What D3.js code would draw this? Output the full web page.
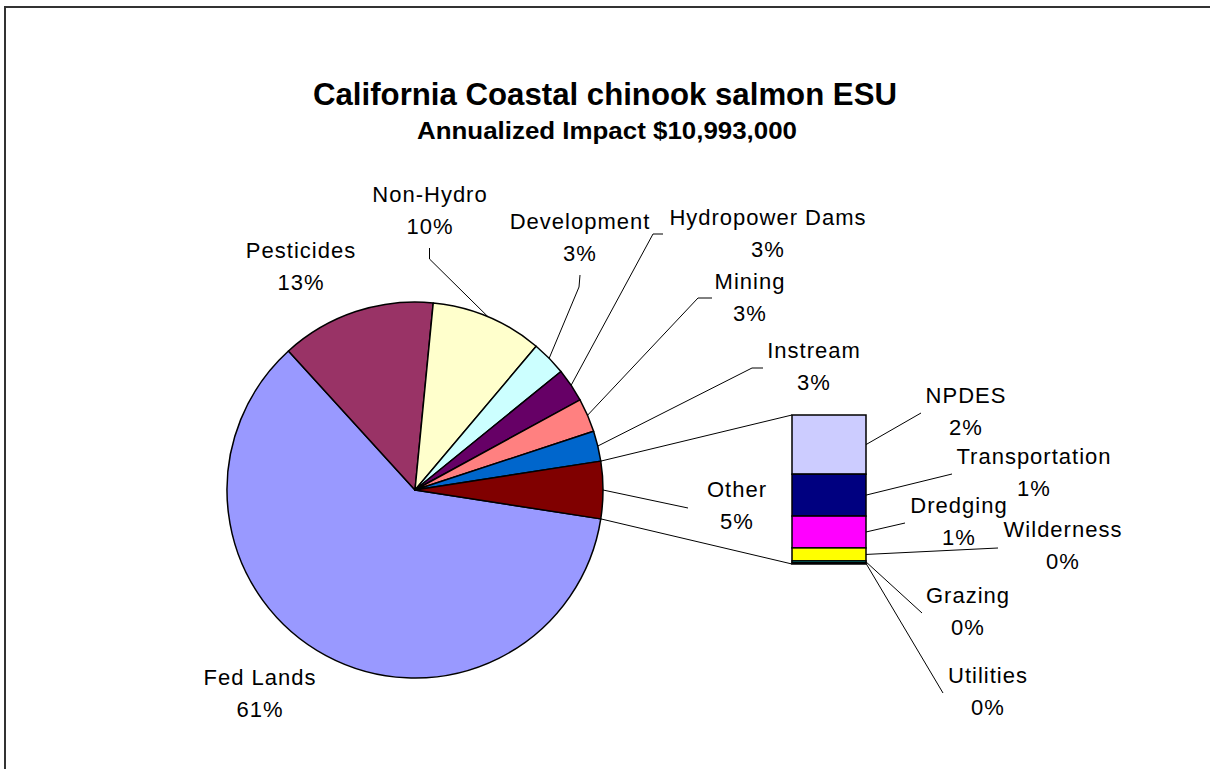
<!DOCTYPE html>
<html>
<head>
<meta charset="utf-8">
<script src="https://cdn.jsdelivr.net/npm/d3@7"></script>
<style>
  html, body { margin: 0; padding: 0; background: #fff; }
  svg { display: block; font-family: "Liberation Sans", Arial, sans-serif; }
  .lbl { font-size: 22px; letter-spacing: 1px; fill: #000; }
  .leader { fill: none; stroke: #000; stroke-width: 1; }
</style>
</head>
<body>
<div id="chart"></div>
<script>
// pie slices, clockwise starting just below "Other"
const pieCategories = ["Fed Lands", "Pesticides", "Non-Hydro", "Development",
  "Hydropower Dams", "Mining", "Instream", "Other"];
const pieValues = [60.8, 13.3, 9.6, 3.0, 2.9, 2.9, 2.6];
const pieColors = ["#9999FF", "#993366", "#FFFFCC", "#CCFFFF",
  "#660066", "#FF8080", "#0066CC", "#800000"];

// breakdown of "Other", top to bottom in the bar
const barCategories = ["NPDES", "Transportation", "Dredging", "Wilderness", "Grazing", "Utilities"];
const barValues = [1.95, 1.38, 1.05, 0.43, 0.06, 0.04];
const barColors = ["#CCCCFF", "#000080", "#FF00FF", "#FFFF00", "#00FFFF", "#800080"];

const width = 1210, height = 769;
const cx = 415, cy = 490, r = 188;
const bar = { x: 792, w: 74, top: 415, bottom: 564 };

// label layout: text centre / first baseline, plus leader line bends
const pieLabelPos = {
  "Fed Lands":       { x: 260, y: 685 },
  "Pesticides":      { x: 301, y: 258 },
  "Non-Hydro":       { x: 430, y: 202, leader: [[429.5, 259], [429.5, 248]] },
  "Development":     { x: 580, y: 229, leader: [[579, 287], [580, 275]] },
  "Hydropower Dams": { x: 768, y: 225, leader: [[653, 234], [663, 234]] },
  "Mining":          { x: 750, y: 289, leader: [[698, 298], [712, 298]] },
  "Instream":        { x: 814, y: 358, leader: [[752, 368], [763, 368]] },
  "Other":           { x: 737, y: 497, leader: [[688, 508]] }
};
const barLabelPos = {
  "NPDES":          { x: 966, y: 403, end: [921, 413] },
  "Transportation": { x: 1034, y: 464, end: [952, 474] },
  "Dredging":       { x: 959, y: 513, end: [905, 523] },
  "Wilderness":     { x: 1063, y: 537, end: [998, 548] },
  "Grazing":        { x: 968, y: 603, end: [922, 613] },
  "Utilities":      { x: 988, y: 683, end: [943, 693] }
};

const otherTotal = d3.sum(barValues);
const allPieValues = pieValues.concat([otherTotal]);
const total = d3.sum(allPieValues);
const pct = v => Math.round(v / total * 100) + "%";

const svg = d3.select("#chart").append("svg")
  .attr("width", width)
  .attr("height", height);

// chart border
svg.append("rect")
  .attr("x", 5).attr("y", 7)
  .attr("width", 1400).attr("height", 1000)
  .attr("fill", "none")
  .attr("stroke", "#333")
  .attr("stroke-width", 2);

// titles
svg.append("text")
  .attr("x", 605).attr("y", 105)
  .attr("text-anchor", "middle")
  .attr("textLength", 584).attr("lengthAdjust", "spacingAndGlyphs")
  .style("font-size", "31px").style("font-weight", "bold")
  .text("California Coastal chinook salmon ESU");
svg.append("text")
  .attr("x", 607).attr("y", 139)
  .attr("text-anchor", "middle")
  .attr("textLength", 380).attr("lengthAdjust", "spacingAndGlyphs")
  .style("font-size", "24px").style("font-weight", "bold")
  .text("Annualized Impact $10,993,000");

// pie
const otherAngle = otherTotal / total * 2 * Math.PI;
const start = Math.PI / 2 + otherAngle / 2;
const pie = d3.pie().sort(null).startAngle(start).endAngle(start + 2 * Math.PI);
const arcs = pie(allPieValues);
const arc = d3.arc().innerRadius(0).outerRadius(r);
const onArc = (a, rad) => [cx + rad * Math.sin(a), cy - rad * Math.cos(a)];

const g = svg.append("g").attr("transform", "translate(" + cx + "," + cy + ")");
g.selectAll("path.slice")
  .data(arcs)
  .enter().append("path")
  .attr("class", "slice")
  .attr("d", arc)
  .attr("fill", (d, i) => pieColors[i])
  .attr("stroke", "#000")
  .attr("stroke-width", 1.5)
  .attr("stroke-linejoin", "round");

// connectors from "Other" slice to the bar
const otherArc = arcs[arcs.length - 1];
const pTop = onArc(otherArc.startAngle, r);
const pBot = onArc(otherArc.endAngle, r);
svg.append("line").attr("class", "leader")
  .attr("x1", pTop[0]).attr("y1", pTop[1]).attr("x2", bar.x).attr("y2", bar.top);
svg.append("line").attr("class", "leader")
  .attr("x1", pBot[0]).attr("y1", pBot[1]).attr("x2", bar.x).attr("y2", bar.bottom);

// stacked bar
const y = d3.scaleLinear().domain([0, otherTotal]).range([bar.top, bar.bottom]);
const cum = d3.cumsum(barValues);
const segs = barValues.map((v, i) => ({ name: barCategories[i], v: v, y0: cum[i] - v, y1: cum[i] }));
svg.selectAll("rect.seg")
  .data(segs)
  .enter().append("rect")
  .attr("class", "seg")
  .attr("x", bar.x)
  .attr("y", d => y(d.y0))
  .attr("width", bar.w)
  .attr("height", d => y(d.y1) - y(d.y0))
  .attr("fill", (d, i) => barColors[i])
  .attr("stroke", "#000")
  .attr("stroke-width", 1.5);

// pie labels + leaders
const line = d3.line();
arcs.forEach((d, i) => {
  const name = pieCategories[i];
  const pos = pieLabelPos[name];
  if (pos.leader) {
    const mid = (d.startAngle + d.endAngle) / 2;
    svg.append("path").attr("class", "leader")
      .attr("d", line([onArc(mid, r)].concat(pos.leader)));
  }
  const t = svg.append("text").attr("class", "lbl").attr("text-anchor", "middle");
  t.append("tspan").attr("x", pos.x).attr("y", pos.y).text(name);
  t.append("tspan").attr("x", pos.x).attr("y", pos.y + 32).text(pct(allPieValues[i]));
});

// bar labels + leaders
segs.forEach(s => {
  const pos = barLabelPos[s.name];
  const sy = (y(s.y0) + y(s.y1)) / 2;
  svg.append("path").attr("class", "leader")
    .attr("d", line([[bar.x + bar.w, sy], pos.end]));
  const t = svg.append("text").attr("class", "lbl").attr("text-anchor", "middle");
  t.append("tspan").attr("x", pos.x).attr("y", pos.y).text(s.name);
  t.append("tspan").attr("x", pos.x).attr("y", pos.y + 32).text(pct(s.v));
});
</script>
</body>
</html>
